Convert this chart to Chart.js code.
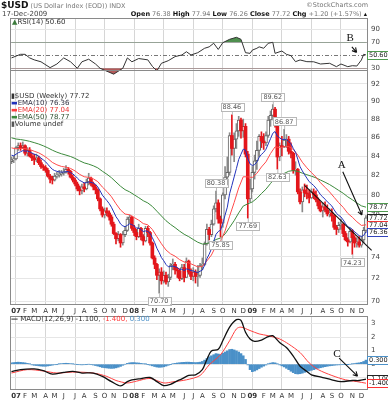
<!DOCTYPE html>
<html><head><meta charset="utf-8">
<script src="https://cdn.jsdelivr.net/npm/chart.js@4.4.0/dist/chart.umd.min.js"></script>
<style>
body{margin:0;background:#fff;width:388px;height:400px;overflow:hidden;position:relative;font-family:"DejaVu Sans",Verdana,sans-serif}
canvas{position:absolute;left:0;top:0}
.t{position:absolute;white-space:nowrap;font-size:7px;color:#333;line-height:1}
.t b{color:#111}
</style></head><body>
<canvas id="rsi" width="388" height="400"></canvas>
<canvas id="main" width="388" height="400"></canvas>
<canvas id="macd" width="388" height="400"></canvas>

<div class="t" style="left:1px;top:1px;font-size:6.5px;color:#777"><b style="font-size:9px">$USD</b> (US Dollar Index (EOD)) INDX</div>
<div class="t" style="right:20px;top:2px;font-size:6.5px;color:#777">©StockCharts.com</div>
<div class="t" style="left:2px;top:11px;font-size:7px;color:#444">17-Dec-2009</div>
<div class="t" style="right:21px;top:11px;font-size:6.5px;color:#777"><b>Open</b> 76.38 <b>High</b> 77.94 <b>Low</b> 76.26 <b>Close</b> 77.72 <b>Chg</b> +1.20 (+1.57%) <span style="color:#111">▴</span></div>

<div class="t" style="left:12px;top:19px"><span style="color:#3a7a3a">▲</span>RSI(14) 50.60</div>

<div class="t" style="left:11px;top:93px"><span style="color:#333">▮</span>$USD (Weekly) 77.72</div>
<div class="t" style="left:11px;top:100px;color:#334"><span style="color:#2233bb">▬</span>EMA(10) 76.36</div>
<div class="t" style="left:11px;top:107px;color:#e33"><span style="color:#ff3b3b">▬</span>EMA(20) 77.04</div>
<div class="t" style="left:11px;top:114px;color:#2f4f2f"><span style="color:#3c8a3c">▬</span>EMA(50) 78.77</div>
<div class="t" style="left:11px;top:121px"><span style="color:#555">▮</span>Volume undef</div>

<div class="t" style="left:11px;top:316px"><b>—</b> MACD(12,26,9) -1.100, <span style="color:#f33">-1.400,</span> <span style="color:#4a90c8">0.300</span></div>

<script>
// weekly bars, first bar = week -2 (Dec 2006), week 0 = first week of Jan 2007
const firstWeek = -2;
const openPrices = [
  83.4, 83.6, 83.7, 84.9, 85.1, 84.9, 85.1, 84.3, 84.6, 84.0,
  83.8, 83.6, 83.8, 83.3, 82.9, 82.8, 82.5, 81.9, 81.6, 81.5,
  81.9, 82.0, 82.1, 82.2, 82.3, 82.6, 82.4, 81.8, 81.5, 81.1,
  80.6, 80.4, 80.8, 80.6, 81.3, 81.7, 81.1, 80.8, 80.5, 79.6,
  78.6, 78.0, 78.4, 78.2, 77.8, 77.1, 76.2, 75.7, 76.1, 75.3,
  76.1, 76.5, 77.6, 77.8, 76.7, 76.3, 75.9, 76.7, 75.9, 75.5,
  76.7, 76.3, 75.3, 73.9, 73.3, 72.3, 72.6, 71.8, 72.3, 71.7,
  72.1, 73.2, 73.3, 72.8, 72.7, 72.0, 73.0, 72.1, 73.6, 72.6,
  72.2, 72.6, 72.2, 72.3, 73.2, 73.3, 75.2, 76.6, 76.1, 77.1,
  78.6, 79.2, 77.6, 77.2, 80.0, 81.8, 82.3, 86.2, 84.8, 85.8,
  86.7, 87.9, 86.7, 87.2, 84.2, 79.6, 80.6, 82.3, 83.5, 84.6,
  86.1, 85.6, 85.4, 86.2, 87.9, 88.4, 89.1, 87.5, 83.9, 85.1,
  85.0, 85.7, 85.8, 84.5, 84.3, 82.5, 82.6, 80.3, 79.3, 80.5,
  80.2, 80.1, 79.7, 80.3, 80.0, 79.5, 78.9, 78.4, 78.8, 78.5,
  78.1, 78.2, 77.9, 76.8, 76.6, 77.0, 77.1, 76.2, 75.6, 75.4,
  76.4, 75.8, 75.3, 75.4, 75.1, 75.6, 76.5
];
const highPrices = [
  83.9, 84.0, 85.0, 85.4, 85.4, 85.5, 85.2, 84.9, 84.9, 84.3,
  84.2, 84.2, 84.0, 83.6, 83.1, 83.0, 82.7, 82.1, 81.9, 82.2,
  82.3, 82.5, 82.5, 82.7, 83.0, 82.8, 82.5, 82.0, 81.7, 81.3,
  80.9, 81.1, 81.2, 81.6, 82.2, 81.8, 81.3, 81.0, 80.6, 79.7,
  78.8, 78.7, 78.7, 78.4, 78.0, 77.3, 76.3, 76.4, 76.2, 76.4,
  76.9, 77.8, 78.0, 77.9, 77.0, 76.6, 77.1, 76.8, 76.1, 76.9,
  76.9, 76.4, 75.4, 74.1, 73.4, 72.9, 73.0, 72.7, 72.6, 72.4,
  73.4, 73.8, 73.5, 73.0, 72.9, 73.3, 73.3, 73.9, 73.7, 72.9,
  73.0, 72.8, 73.2, 73.4, 73.9, 75.4, 77.1, 76.8, 77.5, 78.9,
  80.38, 79.5, 77.9, 80.2, 82.9, 83.9, 86.5, 88.46, 86.5, 87.5,
  88.3, 88.1, 88.0, 87.5, 84.5, 81.6, 82.9, 84.1, 85.6, 86.3,
  86.6, 86.4, 86.6, 88.3, 88.9, 89.62, 89.3, 87.7, 85.4, 86.1,
  86.87, 86.3, 86.1, 85.4, 84.4, 83.4, 82.7, 80.6, 80.8, 81.1,
  81.0, 80.5, 80.6, 80.6, 80.4, 79.7, 79.3, 79.2, 79.3, 79.0,
  78.6, 78.6, 78.0, 77.0, 77.3, 77.6, 77.2, 76.4, 75.8, 76.7,
  76.6, 76.0, 75.8, 75.9, 75.9, 76.8, 77.94
];
const lowPrices = [
  83.2, 83.3, 83.6, 84.6, 84.6, 84.8, 84.1, 84.0, 83.9, 83.5,
  83.1, 83.4, 83.1, 82.7, 82.5, 82.3, 81.8, 81.2, 81.1, 81.4,
  81.7, 81.8, 81.9, 82.0, 82.2, 82.1, 81.7, 81.3, 80.9, 80.4,
  80.0, 80.1, 80.3, 80.5, 81.0, 80.9, 80.5, 80.1, 79.4, 78.4,
  77.8, 77.7, 77.9, 77.5, 76.9, 76.1, 75.2, 75.5, 74.9, 75.1,
  75.9, 76.4, 77.2, 76.5, 76.0, 75.6, 75.8, 75.6, 75.1, 75.4,
  75.9, 75.1, 73.8, 72.9, 71.9, 70.7, 71.5, 71.6, 71.5, 71.3,
  71.9, 72.8, 72.4, 72.1, 71.8, 71.9, 71.7, 72.1, 72.4, 71.9,
  71.8, 71.6, 71.3, 72.1, 72.8, 73.2, 75.1, 75.6, 75.9, 77.0,
  78.3, 77.2, 75.85, 76.8, 79.6, 81.0, 82.0, 84.1, 83.4, 84.8,
  86.1, 85.9, 86.0, 83.9, 77.69, 79.3, 80.3, 81.6, 82.6, 83.9,
  84.9, 84.7, 85.1, 86.0, 87.2, 87.9, 87.1, 82.63, 83.5, 84.0,
  84.9, 84.9, 84.2, 83.8, 82.2, 82.0, 80.1, 79.1, 78.3, 79.8,
  79.6, 79.2, 79.6, 79.6, 79.3, 78.6, 78.3, 77.8, 78.3, 77.9,
  77.8, 77.4, 76.6, 76.1, 76.3, 76.6, 75.9, 75.5, 75.0, 75.3,
  74.23, 74.9, 74.9, 74.9, 74.9, 75.3, 76.3
];
const closePrices = [
  83.6, 83.7, 84.9, 85.1, 84.9, 85.1, 84.3, 84.6, 84.0, 83.8,
  83.6, 83.8, 83.3, 82.9, 82.8, 82.5, 81.9, 81.6, 81.5, 81.9,
  82.0, 82.1, 82.2, 82.3, 82.6, 82.4, 81.8, 81.5, 81.1, 80.6,
  80.4, 80.8, 80.6, 81.3, 81.7, 81.1, 80.8, 80.5, 79.6, 78.6,
  78.0, 78.4, 78.2, 77.8, 77.1, 76.2, 75.7, 76.1, 75.3, 76.1,
  76.5, 77.6, 77.8, 76.7, 76.3, 75.9, 76.7, 75.9, 75.5, 76.7,
  76.3, 75.3, 73.9, 73.3, 72.3, 72.6, 71.8, 72.3, 71.7, 72.1,
  73.2, 73.3, 72.8, 72.7, 72.0, 73.0, 72.1, 73.6, 72.6, 72.2,
  72.6, 72.2, 72.3, 73.2, 73.3, 75.2, 76.6, 76.1, 77.1, 78.6,
  79.2, 77.6, 77.2, 80.0, 81.8, 82.3, 86.2, 84.8, 85.8, 86.7,
  87.9, 86.7, 87.2, 84.2, 79.6, 80.6, 82.3, 83.5, 84.6, 86.1,
  85.6, 85.4, 86.2, 87.9, 88.4, 89.1, 87.5, 83.9, 85.1, 85.0,
  85.7, 85.8, 84.5, 84.3, 82.5, 82.6, 80.3, 79.3, 80.5, 80.2,
  80.1, 79.7, 80.3, 80.0, 79.5, 78.9, 78.4, 78.8, 78.5, 78.1,
  78.2, 77.9, 76.8, 76.6, 77.0, 77.1, 76.2, 75.6, 75.4, 76.4,
  75.8, 75.3, 75.4, 75.1, 75.6, 76.5, 77.72
];
// EMA(10), one value per week
const ema10 = [
  84.09, 84.03, 84.19, 84.35, 84.45, 84.57, 84.52, 84.53, 84.44, 84.32,
  84.19, 84.12, 83.97, 83.78, 83.60, 83.40, 83.13, 82.86, 82.61, 82.48,
  82.40, 82.34, 82.32, 82.32, 82.37, 82.37, 82.27, 82.13, 81.94, 81.70,
  81.47, 81.35, 81.21, 81.23, 81.31, 81.27, 81.19, 81.06, 80.80, 80.40,
  79.97, 79.69, 79.42, 79.13, 78.76, 78.30, 77.83, 77.52, 77.12, 76.94,
  76.86, 76.99, 77.14, 77.06, 76.92, 76.74, 76.73, 76.58, 76.39, 76.45,
  76.42, 76.22, 75.80, 75.35, 74.80, 74.40, 73.93, 73.64, 73.29, 73.08,
  73.10, 73.14, 73.08, 73.01, 72.83, 72.86, 72.72, 72.88, 72.83, 72.72,
  72.70, 72.61, 72.55, 72.67, 72.78, 73.22, 73.83, 74.24, 74.75, 75.44,
  76.12, 76.39, 76.53, 77.16, 77.99, 78.77, 80.11, 80.95, 81.82, 82.70,
  83.64, 84.19, 84.73, 84.64, 83.73, 83.17, 83.01, 83.10, 83.37, 83.86,
  84.17, 84.39, 84.72, 85.29, 85.85, 86.44, 86.63, 86.14, 85.95, 85.78,
  85.77, 85.78, 85.55, 85.32, 84.81, 84.41, 83.67, 82.88, 82.45, 82.05,
  81.70, 81.34, 81.15, 80.94, 80.68, 80.36, 80.01, 79.79, 79.56, 79.30,
  79.10, 78.88, 78.51, 78.17, 77.96, 77.80, 77.51, 77.17, 76.85, 76.77,
  76.60, 76.36, 76.19, 75.99, 75.92, 76.02, 76.36
];
// EMA(20) and EMA(50), one value every second week from week -2
const ema20 = [
  84.87, 84.77, 84.81, 84.79, 84.70, 84.51, 84.34, 84.07, 83.73, 83.33,
  83.08, 82.91, 82.83, 82.70, 82.44, 82.09, 81.84, 81.78, 81.63, 81.34,
  80.79, 80.34, 79.81, 79.11, 78.49, 78.09, 78.02, 77.75, 77.49, 77.16,
  77.04, 76.59, 75.90, 75.23, 74.64, 74.28, 74.06, 73.74, 73.52, 73.44,
  73.26, 73.07, 73.11, 73.62, 74.17, 75.03, 75.46, 76.45, 77.88, 79.23,
  80.70, 81.84, 81.83, 81.77, 82.19, 82.85, 83.39, 84.26, 84.98, 84.90,
  84.99, 85.01, 84.71, 84.11, 83.35, 82.77, 82.27, 81.81, 81.23, 80.76,
  80.29, 79.75, 79.22, 78.75, 78.16, 77.78, 77.34, 76.98, 77.04
];
const ema50 = [
  85.95, 85.82, 85.76, 85.68, 85.57, 85.43, 85.28, 85.09, 84.87, 84.62,
  84.41, 84.24, 84.10, 83.95, 83.75, 83.50, 83.28, 83.15, 82.98, 82.76,
  82.41, 82.10, 81.74, 81.30, 80.87, 80.52, 80.30, 80.01, 79.72, 79.41,
  79.19, 78.84, 78.37, 77.90, 77.44, 77.08, 76.77, 76.43, 76.13, 75.90,
  75.63, 75.37, 75.20, 75.26, 75.36, 75.63, 75.77, 76.16, 76.79, 77.44,
  78.20, 78.88, 79.10, 79.29, 79.65, 80.13, 80.57, 81.15, 81.70, 81.91,
  82.18, 82.41, 82.48, 82.40, 82.21, 82.05, 81.90, 81.73, 81.50, 81.28,
  81.04, 80.75, 80.45, 80.16, 79.80, 79.51, 79.19, 78.90, 78.77
];
// RSI(14) read at these weeks
const rsiWeeks = [-2,2,4,6,8,11,15,18,21,24,27,29,32,35,37,39,43,47,49,51,54,58,60,62,64,67,70,73,75,77,80,83,85,87,89,91,94,97,99,101,103,104,106,107,109,111,113,114,117,119,121,123,125,128,131,134,138,141,143,146,148,150,152,153,154];
const rsiValues = [46,51.5,51.5,46,43,40,31,36.6,46,40,30,40,44,36.6,30,27,21,30,46,40,45,43,33,26,37.7,41.7,48,50.5,55.5,50.5,54,60.8,63,68.5,59,69.4,74.6,77.7,74.6,54,53,58,60.8,63,60.8,68.5,70,53,56.6,51.5,49.4,40.2,42.8,40.2,40,36.6,37.7,32.5,36.6,32.5,34,33.5,42.8,51.5,50.6];
// MACD(12,26,9)
const macdWeeks = [-2,2,8,12,16,21,25,29,34,38,42,46,49,51,54,59,62,65,68,71,73,76,79,82,84,86,89,91,94,97,99,101,103,105,108,111,113,116,119,122,125,128,130,135,139,143,148,151,154];
const macdValues = [-0.55,-0.40,-0.35,-0.48,-0.73,-0.60,-0.53,-0.65,-0.65,-0.90,-1.28,-1.60,-1.28,-1.15,-1.08,-0.98,-1.28,-1.58,-1.48,-1.23,-1.08,-0.83,-0.78,-0.40,0.35,0.98,1.10,1.73,2.73,3.28,3.23,2.35,1.86,1.68,1.78,2.03,2.10,1.60,1.23,0.60,-0.15,-0.53,-0.78,-0.98,-1.15,-1.28,-1.20,-1.20,-1.10];
const signalWeeks = [-2,5,12,18,25,34,40,44,49,53,59,65,69,75,81,85,90,94,97,99,103,107,111,116,120,125,129,133,139,145,150,154];
const signalValues = [-0.65,-0.40,-0.50,-0.65,-0.58,-0.65,-0.90,-1.20,-1.38,-1.25,-1.05,-1.38,-1.30,-1.15,-0.83,-0.05,0.70,1.73,2.60,2.73,2.48,2.23,2.10,1.86,1.48,0.86,0.10,-0.40,-0.83,-1.15,-1.28,-1.40];
// histogram, one value per week
const histValues = [
  0.10, 0.12, 0.14, 0.15, 0.14, 0.12, 0.10, 0.06, 0.02,
  -0.05, -0.08, -0.10, -0.12, -0.14, -0.15, -0.15, -0.13, -0.10, -0.07, -0.04, -0.02,
  0.02, 0.04, 0.06, 0.07, 0.06, 0.04, 0.02, 0.00, -0.02,
  -0.04, -0.05, -0.04, -0.02, 0.00, -0.03, -0.06, -0.10, -0.14,
  -0.19, -0.24, -0.26, -0.28, -0.30, -0.31, -0.30, -0.27, -0.22, -0.16, -0.08,
  0.00, 0.06, 0.10, 0.12, 0.12, 0.10, 0.09, 0.06, 0.03, 0.01, -0.02,
  -0.07, -0.12, -0.17, -0.21, -0.23, -0.22, -0.19, -0.14, -0.08, -0.02,
  0.03, 0.06, 0.09, 0.11, 0.13, 0.14, 0.15, 0.15, 0.14, 0.13, 0.12, 0.13, 0.15,
  0.20, 0.30, 0.42, 0.55, 0.62,
  0.70, 0.78, 0.75, 0.72, 0.80, 0.90, 0.98, 1.08, 1.10, 1.05, 0.98, 0.90, 0.78, 0.62,
  0.35, -0.05, -0.40, -0.55, -0.50, -0.42, -0.32, -0.22, -0.14, -0.06,
  0.02, 0.08, 0.12, 0.10, 0.02, -0.05,
  -0.12, -0.20, -0.30, -0.40, -0.52, -0.62, -0.70, -0.72, -0.70, -0.66, -0.60, -0.55,
  -0.50, -0.45, -0.40, -0.35, -0.30, -0.26, -0.22, -0.18, -0.15, -0.12, -0.10,
  -0.08, -0.06, -0.05, -0.04, -0.03, -0.02, -0.01, 0.00, 0.02,
  0.05, 0.08, 0.10, 0.14, 0.20, 0.30
];
// axis labels
const monthWeeks = [0,4,8,13,17,21,26,30,35,39,43,48, 52,56,61,65,69,74,78,82,87,91,96,100, 104,109,113,117,121,126,130,135,139,143,148,152];
const monthLabels = ['07','F','M','A','M','J','J','A','S','O','N','D','08','F','M','A','M','J','J','A','S','O','N','D','09','F','M','A','M','J','J','A','S','O','N','D'];
const yearWeeks = [0, 52, 104];
const quarterWeeks = [0,13,26,39,52,65,78,91,104,117,130,143];
const priceTicks = [70,71,72,73,74,75,76,77,78,79,80,81,82,83,84,85,86,87,88,89,90,91,92,93];
// high / low callouts on the price panel
const callouts = [
  {w: 63, v: 70.70, pos: 'below'}, {w: 90, v: 75.85, pos: 'below'}, {w: 88, v: 80.38, pos: 'above'},
  {w: 95, v: 88.46, pos: 'above'}, {w: 113, v: 89.62, pos: 'above'}, {w: 118, v: 86.87, pos: 'above'},
  {w: 115, v: 82.63, pos: 'below'}, {w: 102, v: 77.69, pos: 'below'}, {w: 148, v: 74.23, pos: 'below'}
];

const FONT = '"DejaVu Sans", Verdana, sans-serif';
const X_MIN = -2.64, X_MAX = 154.9;
Chart.defaults.font.family = FONT;
Chart.defaults.animation = false;

const weeks = closePrices.map((_, k) => firstWeek + k);
const pts = (xs, ys) => ys.map((v, k) => ({x: xs[k], y: v}));
const everyOther = ema20.map((_, k) => firstWeek + 2 * k);

function xAxis(showLabels) {
  return {
    type: 'linear', min: X_MIN, max: X_MAX, offset: false,
    afterBuildTicks: s => { s.ticks = monthWeeks.map(v => ({value: v})); },
    afterFit: s => { s.height = showLabels ? 10 : 0; },
    border: {display: false},
    grid: {drawTicks: false, offset: false, color: c => (c.tick && quarterWeeks.includes(c.tick.value)) ? '#d6d6d6' : 'rgba(0,0,0,0)'},
    ticks: {
      display: showLabels, autoSkip: false, maxRotation: 0, padding: 2, color: '#333',
      font: c => ({size: 7, family: FONT, weight: (c.tick && yearWeeks.includes(c.tick.value)) ? 'bold' : 'normal'}),
      callback: (v, i) => monthLabels[i]
    }
  };
}
function yAxis(extra) {
  return Object.assign({
    position: 'right',
    afterFit: s => { s.width = 20; },
    border: {display: false},
    grid: {drawTicks: false, color: '#e6e6e6'},
    ticks: {padding: 3, color: '#444', font: {size: 7, family: FONT}}
  }, extra);
}

// frame, reference lines, value boxes, callouts, hand-drawn marks
const decor = {
  id: 'decor',
  beforeDatasetsDraw(chart, args, o) {
    const {ctx, chartArea: a, scales: {y}} = chart;
    ctx.save();
    (o.refLines || []).forEach(r => {
      const py = Math.round(y.getPixelForValue(r.v)) + 0.5;
      ctx.strokeStyle = r.color; ctx.lineWidth = 1; ctx.setLineDash(r.dash || []);
      ctx.beginPath(); ctx.moveTo(a.left, py); ctx.lineTo(a.right, py); ctx.stroke();
    });
    ctx.restore();
  },
  afterDraw(chart, args, o) {
    const {ctx, chartArea: a, scales: {x, y}} = chart;
    ctx.save();
    const bottom = o.frameBottom != null ? Math.round(y.getPixelForValue(o.frameBottom)) : Math.round(a.bottom) - 1;
    ctx.strokeStyle = '#8a8a8a'; ctx.lineWidth = 1; ctx.setLineDash([]);
    ctx.strokeRect(Math.round(a.left) + 0.5, Math.round(a.top) + 0.5, Math.round(a.right - a.left) - 1, bottom - Math.round(a.top));

    ctx.font = '6.5px ' + FONT; ctx.textBaseline = 'middle';
    (o.callouts || []).forEach(c => {
      const px = x.getPixelForValue(c.w), py = y.getPixelForValue(c.v);
      const t = c.v.toFixed(2), w = ctx.measureText(t).width + 4, h = 8;
      const by = c.pos === 'above' ? py - 4 - h : py + 4;
      ctx.strokeStyle = '#b8b8b8';
      ctx.beginPath(); ctx.moveTo(px + 0.5, c.pos === 'above' ? by + h : by); ctx.lineTo(px + 0.5, py); ctx.stroke();
      ctx.fillStyle = '#fff'; ctx.fillRect(px - w / 2, by, w, h);
      ctx.strokeRect(Math.round(px - w / 2) + 0.5, Math.round(by) + 0.5, Math.round(w), h);
      ctx.fillStyle = '#555'; ctx.textAlign = 'center';
      ctx.fillText(t, px, by + h / 2 + 0.5);
    });

    (o.boxes || []).forEach(b => {
      const py = Math.round(y.getPixelForValue(b.v));
      ctx.font = '6.5px ' + FONT;
      const w = ctx.measureText(b.text).width + 3, h = 8;
      const bx = Math.round(a.right) - 0.5;
      ctx.fillStyle = '#fff'; ctx.fillRect(bx, py - 4, w, h);
      ctx.strokeStyle = b.color; ctx.strokeRect(bx, py - 3.5, w, h);
      ctx.fillStyle = '#222'; ctx.textAlign = 'left';
      ctx.fillText(b.text, bx + 1.5, py + 0.5);
    });

    ctx.strokeStyle = '#111'; ctx.fillStyle = '#111'; ctx.lineWidth = 1.1;
    (o.marks || []).forEach(m => {
      if (m.text) {
        ctx.font = '11px "Liberation Serif", serif'; ctx.textAlign = 'center';
        ctx.fillText(m.text, x.getPixelForValue(m.at[0]), y.getPixelForValue(m.at[1]));
        return;
      }
      const x1 = x.getPixelForValue(m.from[0]), y1 = y.getPixelForValue(m.from[1]);
      const x2 = x.getPixelForValue(m.to[0]), y2 = y.getPixelForValue(m.to[1]);
      ctx.beginPath(); ctx.moveTo(x1, y1); ctx.lineTo(x2, y2);
      if (m.arrow) {
        const ang = Math.atan2(y2 - y1, x2 - x1);
        [0.5, -0.5].forEach(d => {
          ctx.moveTo(x2, y2);
          ctx.lineTo(x2 - 5 * Math.cos(ang + d), y2 - 5 * Math.sin(ang + d));
        });
      }
      ctx.stroke();
    });
    ctx.restore();
  }
};
Chart.register(decor);

const common = {responsive: false, devicePixelRatio: 1, animation: false, events: []};

// RSI panel
new Chart(document.getElementById('rsi'), {
  type: 'line',
  data: {datasets: [
    {data: pts(rsiWeeks, rsiValues), borderColor: '#333', borderWidth: 1, pointRadius: 0,
     fill: {target: {value: 70}, above: '#4f8f4f', below: 'rgba(0,0,0,0)'}},
    {data: pts(rsiWeeks, rsiValues), borderColor: 'rgba(0,0,0,0)', borderWidth: 0, pointRadius: 0,
     fill: {target: {value: 30}, above: 'rgba(0,0,0,0)', below: '#b45a5a'}}
  ]},
  options: Object.assign({}, common, {
    layout: {padding: {left: 10, right: 0, top: 18, bottom: 323}},
    plugins: {legend: {display: false}, tooltip: {enabled: false},
      decor: {
        frameBottom: 26.9,
        refLines: [{v: 50, color: '#777', dash: [4, 2, 1, 2]}],
        boxes: [{v: 50.6, text: '50.60', color: '#4f9a4f'}],
        marks: [{text: 'B', at: [147, 76]}, {from: [147.8, 63], to: [149.9, 54.5], arrow: true}]
      }},
    scales: {
      x: xAxis(false),
      y: yAxis({type: 'linear', min: 16.6, max: 107.4,
        afterBuildTicks: s => { s.ticks = [30, 50, 70, 90].map(v => ({value: v})); },
        grid: {drawTicks: false, color: c => c.tick && c.tick.value === 50 ? 'rgba(0,0,0,0)' : (c.tick && c.tick.value === 90 ? '#e6e6e6' : '#a8a8a8')},
        ticks: {padding: 3, color: '#444', font: {size: 7, family: FONT}, callback: v => v === 50 ? '' : String(v)}})
    }
  })
});

// price panel
const isUp = closePrices.map((c, k) => c >= openPrices[k]);
const upBodies = [], downBodies = [];
weeks.forEach((w, k) => (isUp[k] ? upBodies : downBodies).push({x: w, y: [openPrices[k], closePrices[k]]}));

new Chart(document.getElementById('main'), {
  type: 'bar',
  data: {datasets: [
    {type: 'line', data: pts(weeks, ema10), borderColor: '#2233bb', borderWidth: 1, pointRadius: 0, order: 0},
    {type: 'line', data: pts(everyOther, ema20), borderColor: '#ff4a4a', borderWidth: 1, pointRadius: 0, order: 0},
    {type: 'line', data: pts(everyOther, ema50), borderColor: '#3c8a3c', borderWidth: 1, pointRadius: 0, order: 0},
    {data: downBodies, backgroundColor: '#e3161b', borderColor: '#e3161b', borderWidth: 0, barThickness: 3, grouped: false, order: 1},
    {data: upBodies, backgroundColor: '#fff', borderColor: '#666', borderWidth: 1, borderSkipped: false, barThickness: 3, grouped: false, order: 1},
    {data: weeks.map((w, k) => ({x: w, y: [lowPrices[k], highPrices[k]]})),
     backgroundColor: isUp.map(u => u ? '#8a8a8a' : '#e3161b'), borderWidth: 0, barThickness: 1, grouped: false, order: 2}
  ]},
  options: Object.assign({}, common, {
    layout: {padding: {left: 10, right: 0, top: 70, bottom: 85}},
    plugins: {legend: {display: false}, tooltip: {enabled: false},
      decor: {
        callouts: callouts,
        boxes: [{v: 78.77, text: '78.77', color: '#4f9a4f'}, {v: 77.72, text: '77.72', color: '#222'},
                {v: 77.04, text: '77.04', color: '#e33'}, {v: 76.36, text: '76.36', color: '#3344bb'}],
        marks: [{text: 'A', at: [143.3, 83.1]},
                {from: [143.8, 82.35], to: [152.2, 78.0], arrow: true},
                {from: [127, 80.95], to: [156.5, 74.6]}]
      }},
    scales: {
      x: xAxis(true),
      y: yAxis({type: 'logarithmic', min: 69.65, max: 93.6,
        afterBuildTicks: s => { s.ticks = priceTicks.map(v => ({value: v})); },
        ticks: {padding: 3, color: '#444', font: {size: 7, family: FONT}, callback: v => (v <= 90 || v === 92) ? String(v) : ''}})
    }
  })
});

// MACD panel
new Chart(document.getElementById('macd'), {
  type: 'bar',
  data: {datasets: [
    {type: 'line', data: pts(macdWeeks, macdValues), borderColor: '#111', borderWidth: 1.3, pointRadius: 0, tension: 0.3, order: 0},
    {type: 'line', data: pts(signalWeeks, signalValues), borderColor: '#ff4040', borderWidth: 1, pointRadius: 0, tension: 0.3, order: 0},
    {data: pts(weeks, histValues), backgroundColor: '#4a90c8', borderWidth: 0, barThickness: 2, grouped: false, order: 1}
  ]},
  options: Object.assign({}, common, {
    layout: {padding: {left: 10, right: 0, top: 316, bottom: 0}},
    plugins: {legend: {display: false}, tooltip: {enabled: false},
      decor: {
        boxes: [{v: 0.3, text: '0.300', color: '#4a90c8'}, {v: -1.1, text: '-1.100', color: '#222'}, {v: -1.4, text: '-1.400', color: '#f33'}],
        marks: [{text: 'C', at: [141.2, 0.75]}, {from: [142.2, 0.45], to: [150.3, -0.88], arrow: true}]
      }},
    scales: {
      x: xAxis(true),
      y: yAxis({type: 'linear', min: -1.9, max: 3.55,
        afterBuildTicks: s => { s.ticks = [-1, 0, 1, 2, 3].map(v => ({value: v})); },
        ticks: {padding: 3, color: '#444', font: {size: 7, family: FONT}, callback: v => String(v)}})
    }
  })
});
</script>
</body></html>
